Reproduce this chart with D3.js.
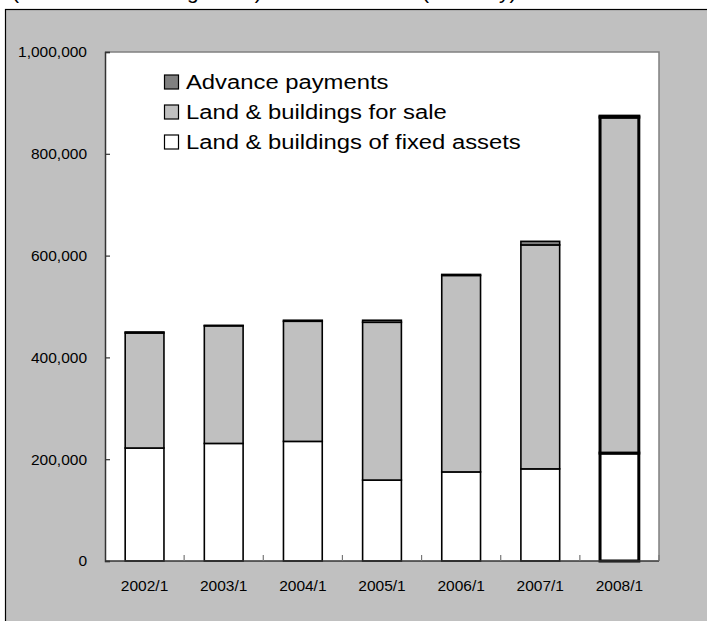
<!DOCTYPE html>
<html><head><meta charset="utf-8">
<script src="https://cdn.jsdelivr.net/npm/d3@7"></script>
<style>html,body{margin:0;padding:0;background:#fff;}svg{display:block;font-family:Arial,"Liberation Sans",sans-serif;}</style>
</head><body>
<svg id="c" width="707" height="621"></svg>
<script>
const categories = ["2002/1","2003/1","2004/1","2005/1","2006/1","2007/1","2008/1"];
const fixedAssets = [222000, 231000, 235000, 159000, 175000, 181000, 212000];
const forSale     = [226000, 231000, 236000, 310000, 386000, 440000, 660000];
const advance     = [2000, 1000, 2000, 4000, 2000, 7000, 2000];
const yTicks = [0, 200000, 400000, 600000, 800000, 1000000];
const seriesNames = ["Land & buildings of fixed assets","Land & buildings for sale","Advance payments"];
const seriesColors = ["#ffffff","#c0c0c0","#808080"];
const legendOrder = [2,1,0];
const headerLeft = "(Real estate holdings total)";
const headerRight = "(Annually)";

const svg = d3.select("#c");
const L = 105, R = 659, T = 52, B = 561;

// top header text (cut off at the top edge, as in the reference)
svg.append("text").attr("x",12).attr("y",-1.5).attr("font-size",21).text(headerLeft);
svg.append("text").attr("x",422).attr("y",-1.5).attr("font-size",21).text(headerRight);

// chart area background
svg.append("rect").attr("x",5.5).attr("y",9.5).attr("width",710).attr("height",620)
  .attr("fill","#c0c0c0").attr("stroke","#000").attr("stroke-width",1.2);

const x = d3.scaleBand().domain(categories).range([L,R]).paddingInner(0).paddingOuter(0);
const y = d3.scaleLinear().domain([0,1000000]).range([B,T]);

// plot area
svg.append("rect").attr("x",L).attr("y",T).attr("width",R-L).attr("height",B-T)
  .attr("fill","#fff");
svg.append("path").attr("d",`M${L},${T}H${R}V${B}`).attr("fill","none")
  .attr("stroke","#808080").attr("stroke-width",1.5);

// stacked data
const rows = categories.map((c,i)=>({cat:c, s0:fixedAssets[i], s1:forSale[i], s2:advance[i]}));
const stack = d3.stack().keys(["s0","s1","s2"]);
const layers = stack(rows);
const bw = x.bandwidth()*0.49;

layers.forEach((layer,k)=>{
  svg.append("g").selectAll("rect").data(layer).join("rect")
    .attr("x",d=>x(d.data.cat)+x.bandwidth()/2-bw/2)
    .attr("width",bw)
    .attr("y",d=>y(d[1]))
    .attr("height",d=>y(d[0])-y(d[1]))
    .attr("fill",seriesColors[k])
    .attr("stroke","#000")
    .attr("stroke-width",d=>d.data.cat==="2008/1"?3:1.6);
});

// y axis
const yAxis = d3.axisLeft(y).tickValues(yTicks).tickSize(-5).tickPadding(18)
  .tickFormat(d3.format(","));
const gy = svg.append("g").attr("transform",`translate(${L},0)`).call(yAxis);
gy.select(".domain").attr("stroke","#333").attr("stroke-width",1.5);
gy.selectAll(".tick line").attr("stroke","#333").attr("stroke-width",1.2);
gy.selectAll("text").attr("font-size",15.5).attr("fill","#000").attr("font-family","Arial, 'Liberation Sans', sans-serif");

// x axis
const gx = svg.append("g").attr("transform",`translate(0,${B})`);
gx.append("line").attr("x1",L).attr("x2",R).attr("stroke","#333").attr("stroke-width",1.5);
const bounds = categories.map(c=>x(c)).slice(1).concat([R]);
gx.selectAll("line.t").data(bounds).join("line").attr("class","t")
  .attr("x1",d=>d).attr("x2",d=>d).attr("y1",0).attr("y2",-6)
  .attr("stroke","#777").attr("stroke-width",1.2);
gx.selectAll("text").data(categories).join("text")
  .attr("x",d=>x(d)+x.bandwidth()/2).attr("y",30).attr("text-anchor","middle")
  .attr("font-size",15.5).attr("fill","#000").text(d=>d);

// legend
const lg = svg.append("g");
legendOrder.forEach((k,i)=>{
  const cy = 82 + i*30;
  lg.append("rect").attr("x",164.5).attr("y",cy-7).attr("width",14).attr("height",14)
    .attr("fill",seriesColors[k]).attr("stroke","#000").attr("stroke-width",1.2);
  const t = lg.append("text").attr("x",186).attr("y",cy+7).attr("font-size",20).text(seriesNames[k]);
  const w = t.node().getComputedTextLength();
  t.attr("textLength",w*1.19).attr("lengthAdjust","spacingAndGlyphs");
});
</script>
</body></html>
